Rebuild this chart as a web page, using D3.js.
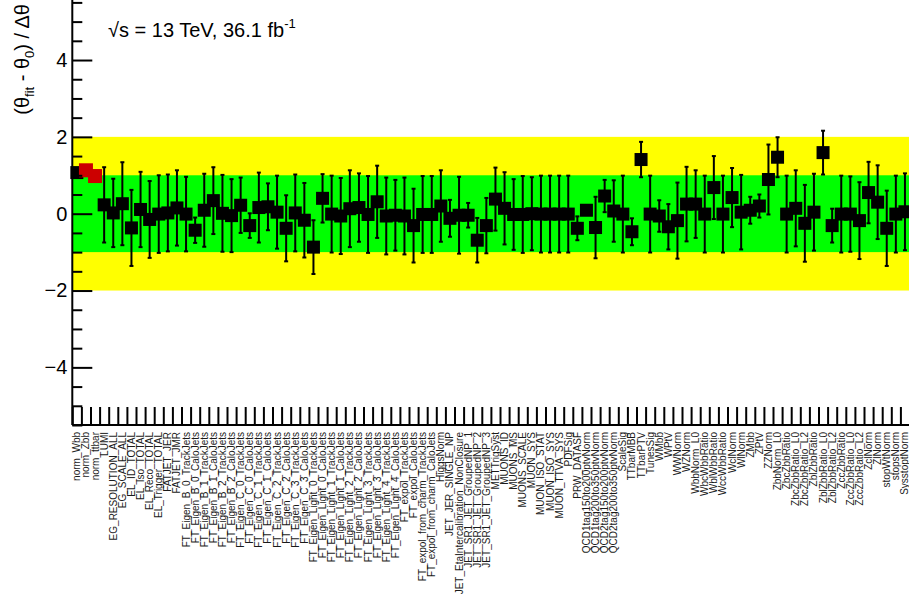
<!DOCTYPE html>
<html>
<head>
<meta charset="utf-8">
<script src="https://cdn.jsdelivr.net/npm/d3@7"></script>
<style>
  body { margin: 0; background: #fff; }
  svg { display: block; font-family: "Liberation Sans", Arial, Helvetica, sans-serif; }
</style>
</head>
<body>
<svg id="chart" width="909" height="595"></svg>
<script>
// Nuisance parameter names, in fit order
const labels = [
  "norm_Wbb", "norm_Zbb", "norm_ttbar", "LUMI",
  "EG_RESOLUTION_ALL", "EG_SCALE_ALL", "EL_ID_TOTAL", "EL_Iso_TOTAL",
  "EL_Reco_TOTAL", "EL_Trigger_TOTAL", "FATJET_JER", "FATJET_JMR",
  "FT_Eigen_B_0_TrackJets", "FT_Eigen_B_0_CaloJets", "FT_Eigen_B_1_TrackJets", "FT_Eigen_B_1_CaloJets",
  "FT_Eigen_B_2_TrackJets", "FT_Eigen_B_2_CaloJets", "FT_Eigen_C_0_TrackJets", "FT_Eigen_C_0_CaloJets",
  "FT_Eigen_C_1_TrackJets", "FT_Eigen_C_1_CaloJets", "FT_Eigen_C_2_TrackJets", "FT_Eigen_C_2_CaloJets",
  "FT_Eigen_C_3_TrackJets", "FT_Eigen_C_3_CaloJets", "FT_Eigen_Light_0_TrackJets", "FT_Eigen_Light_0_CaloJets",
  "FT_Eigen_Light_1_TrackJets", "FT_Eigen_Light_1_CaloJets", "FT_Eigen_Light_2_TrackJets", "FT_Eigen_Light_2_CaloJets",
  "FT_Eigen_Light_3_TrackJets", "FT_Eigen_Light_3_CaloJets", "FT_Eigen_Light_4_TrackJets", "FT_Eigen_Light_4_CaloJets",
  "FT_expol_TrackJets", "FT_expol_CaloJets", "FT_expol_from_charm_TrackJets", "FT_expol_from_charm_CaloJets",
  "HiggsNorm", "JET_JER_SINGLE_NP", "JET_EtaIntercalibration_NonClosure", "JET_SR1_JET_GroupedNP_1",
  "JET_SR1_JET_GroupedNP_2", "JET_SR1_JET_GroupedNP_3", "METTrigSyst", "MUONS_ID",
  "MUONS_MS", "MUONS_SCALE", "MUON_SYS", "MUON_ISO_STAT",
  "MUON_ISO_SYS", "MUON_TTVA_SYS", "PDFSig", "PRW_DATASF",
  "QCD1tag150to200ptvNorm", "QCD1tag200to350ptvNorm", "QCD2tag150to200ptvNorm", "QCD2tag200to350ptvNorm",
  "ScaleSig", "TTbarMBB", "TTbarPTV", "TunesSig",
  "WMbb", "WPtV", "WWNorm", "WZNorm",
  "WbbNorm_L0", "WbcWbbRatio", "WblWbbRatio", "WccWbbRatio",
  "WclNorm", "WlNorm", "ZMbb", "ZPtV",
  "ZZNorm", "ZbbNorm_L0", "ZbcZbbRatio", "ZbcZbbRatio_L0",
  "ZbcZbbRatio_L2", "ZblZbbRatio", "ZblZbbRatio_L0", "ZblZbbRatio_L2",
  "ZccZbbRatio", "ZccZbbRatio_L0", "ZccZbbRatio_L2", "ZclNorm",
  "ZlNorm", "stopWtNorm", "stopsNorm", "SysstoptNorm"
];

// Post-fit pulls (theta_fit - theta_0) / delta_theta
const pulls = [
   1.07,  1.13,  0.98,  0.23,
   0.02,  0.26, -0.37,  0.11,
  -0.15, -0.01,  0.02,  0.15,
  -0.01, -0.43,  0.09,  0.34,
   0.01, -0.05,  0.22, -0.31,
   0.16,  0.18,  0.04, -0.38,
   0.02, -0.17, -0.87,  0.40,
  -0.01, -0.06,  0.13,  0.16,
  -0.02,  0.31, -0.06, -0.04,
  -0.06, -0.31, -0.02, -0.02,
   0.20, -0.12, -0.04, -0.04,
  -0.69, -0.31,  0.38,  0.14,
  -0.02, -0.02,  0.00, -0.01,
  -0.01, -0.01, -0.01, -0.38,
   0.09, -0.36,  0.46,  0.07,
  -0.01, -0.47,  1.41, -0.01,
  -0.06, -0.34, -0.18,  0.25,
   0.25, -0.01,  0.68, -0.01,
   0.42,  0.04,  0.09,  0.20,
   0.89,  1.47, -0.01,  0.14,
  -0.25,  0.04,  1.59, -0.31,
  -0.01, -0.01, -0.18,  0.55,
   0.30, -0.38, -0.01,  0.05
];

// Post-fit constraints (uncertainty on each pull)
const errors = [
  0.00, 0.00, 0.00, 0.98,
  0.89, 1.08, 0.99, 0.98,
  1.00, 1.01, 1.00, 0.98,
  0.97, 0.33, 0.95, 0.87,
  1.00, 0.95, 0.72, 0.32,
  0.91, 0.61, 0.95, 0.86,
  1.00, 0.97, 0.70, 0.63,
  1.00, 0.99, 1.00, 0.89,
  1.00, 0.94, 1.00, 0.92,
  1.00, 0.96, 1.00, 1.00,
  0.93, 0.48, 1.00, 0.32,
  0.58, 0.72, 0.82, 0.94,
  0.92, 1.00, 0.95, 1.00,
  1.00, 1.00, 1.00, 0.31,
  0.10, 0.80, 0.42, 0.80,
  1.00, 0.35, 0.46, 1.00,
  0.41, 0.59, 0.99, 0.97,
  0.88, 1.00, 0.82, 1.00,
  0.77, 0.97, 0.35, 0.30,
  0.91, 0.52, 1.00, 0.99,
  1.00, 1.00, 0.57, 0.44,
  1.00, 0.98, 1.00, 0.80,
  0.96, 0.98, 1.00, 1.00
];

// Normalisation factors shown with a red marker
const normFactors = ["norm_Zbb", "norm_ttbar"];

const yMajorTicks = [-4, -2, 0, 2, 4];
const yMinorTicks = d3.range(-5.5, 5.51, 0.5).filter(v => !yMajorTicks.includes(v));
const sigmaBands = [
  { lo: -2, hi: 2, color: "#ffff00" },
  { lo: -1, hi: 1, color: "#00ff00" }
];

const W = 909, H = 595;
const frameLeft = 72.3, frameTop = 2.4, frameBottom = 425, binW = 9.1;

const svg = d3.select("#chart");
svg.append("rect").attr("width", W).attr("height", H).attr("fill", "#fff");

const x = d3.scaleBand()
  .domain(labels)
  .range([frameLeft, frameLeft + labels.length * binW])
  .padding(0);
const xEdge = d3.scaleLinear()
  .domain([0, labels.length])
  .range([frameLeft, frameLeft + labels.length * binW]);
const y = d3.scaleLinear().domain([-5.5, 5.5]).range([frameBottom, frameTop]);

// 1 and 2 sigma bands
svg.append("g").selectAll("rect")
  .data(sigmaBands)
  .join("rect")
  .attr("x", frameLeft)
  .attr("width", W - frameLeft)
  .attr("y", d => y(d.hi))
  .attr("height", d => y(d.lo) - y(d.hi))
  .attr("fill", d => d.color);

const points = labels.map((name, i) => ({ name, pull: pulls[i], err: errors[i] }));
const cx = d => x(d.name) + x.bandwidth() / 2;

// Error bars with small end caps
const bars = svg.append("g").attr("stroke", "#000").attr("stroke-width", 2);
const withErr = points.filter(d => d.err > 0);
bars.selectAll("line.v").data(withErr).join("line")
  .attr("class", "v")
  .attr("x1", cx).attr("x2", cx)
  .attr("y1", d => y(d.pull + d.err))
  .attr("y2", d => y(d.pull - d.err));
bars.selectAll("line.t").data(withErr).join("line")
  .attr("class", "t")
  .attr("x1", d => cx(d) - 2).attr("x2", d => cx(d) + 2)
  .attr("y1", d => y(d.pull + d.err)).attr("y2", d => y(d.pull + d.err));
bars.selectAll("line.b").data(withErr).join("line")
  .attr("class", "b")
  .attr("x1", d => cx(d) - 2).attr("x2", d => cx(d) + 2)
  .attr("y1", d => y(d.pull - d.err)).attr("y2", d => y(d.pull - d.err));

// Square markers: regular parameters first, normalisation factors on top
const isNorm = d => normFactors.includes(d.name);
const ordered = points.filter(d => !isNorm(d)).concat(points.filter(isNorm));
svg.append("g").selectAll("rect").data(ordered).join("rect")
  .attr("x", d => cx(d) - (isNorm(d) ? 7 : 6.5))
  .attr("y", d => y(d.pull) - (isNorm(d) ? 7 : 6.5))
  .attr("width", d => isNorm(d) ? 14 : 13)
  .attr("height", d => isNorm(d) ? 14 : 13)
  .attr("fill", d => isNorm(d) ? "#cc0000" : "#000");

// Y axis: major and minor ticks drawn inside the frame
const yAxisMajor = d3.axisLeft(y).tickValues(yMajorTicks).tickSize(-20).tickSizeOuter(0).tickPadding(5);
const gy = svg.append("g").attr("transform", `translate(${frameLeft},0)`).call(yAxisMajor);
gy.select(".domain").attr("stroke-width", 2).attr("d", `M0,${frameBottom}V0`);
gy.selectAll(".tick line").attr("stroke-width", 2);
gy.selectAll(".tick text").attr("font-size", 20).attr("fill", "#000")
  .attr("font-family", "'Liberation Sans', Arial, sans-serif");

const yAxisMinor = d3.axisLeft(y).tickValues(yMinorTicks).tickSize(-10).tickSizeOuter(0).tickFormat("");
const gym = svg.append("g").attr("transform", `translate(${frameLeft},0)`).call(yAxisMinor);
gym.select(".domain").remove();
gym.selectAll(".tick line").attr("stroke-width", 2);

// X axis: ticks at bin edges, pointing up
const xAxis = d3.axisBottom(xEdge).tickValues(d3.range(0, labels.length + 1))
  .tickSize(-18).tickSizeOuter(0).tickFormat("");
const gx = svg.append("g").attr("transform", `translate(0,${frameBottom})`).call(xAxis);
gx.select(".domain").attr("stroke-width", 2).attr("d", `M${frameLeft},0H${W}`);
gx.selectAll(".tick line").attr("stroke-width", 2);

// Bin labels, rotated
svg.append("g").selectAll("text")
  .data(labels)
  .join("text")
  .attr("transform", d => `translate(${x(d) + x.bandwidth() / 2},${frameBottom + 7}) rotate(-90)`)
  .attr("dy", "0.35em")
  .attr("text-anchor", "end")
  .attr("font-size", 10)
  .attr("fill", "#1a1a1a")
  .text(d => d);

// Y axis title
const yt = svg.append("text")
  .attr("transform", "translate(29,4) rotate(-90)")
  .attr("text-anchor", "end")
  .attr("font-size", 20)
  .attr("fill", "#000");
yt.append("tspan").text("(θ");
yt.append("tspan").attr("font-size", 13).attr("dy", 5).text("fit");
yt.append("tspan").attr("dy", -5).text(" - θ");
yt.append("tspan").attr("font-size", 13).attr("dy", 5).text("0");
yt.append("tspan").attr("dy", -5).text(") / Δθ");

// Centre-of-mass energy and luminosity
const lt = svg.append("text")
  .attr("x", 108).attr("y", 37)
  .attr("font-size", 20)
  .attr("fill", "#000");
lt.append("tspan").text("√s = 13 TeV, 36.1 fb");
lt.append("tspan").attr("font-size", 13).attr("dy", -9).text("-1");
</script>
</body>
</html>
